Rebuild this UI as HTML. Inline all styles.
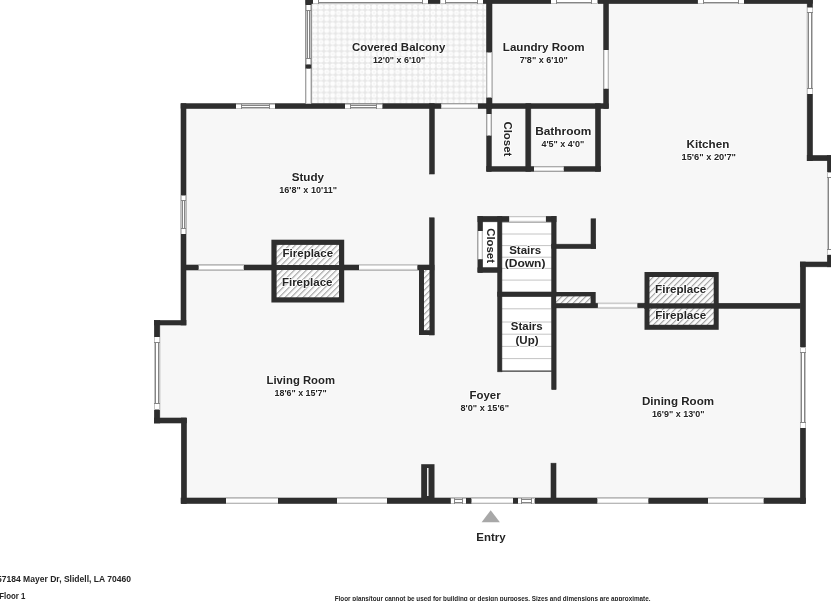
<!DOCTYPE html>
<html><head><meta charset="utf-8"><style>
html,body{margin:0;padding:0;background:#ffffff;width:831px;height:601px;overflow:hidden;}
svg{display:block;will-change:transform;}
text{font-family:"Liberation Sans",sans-serif;fill:#242424;stroke:#ffffff;stroke-width:1.6px;paint-order:stroke;stroke-linejoin:round;}
text.nh{stroke:none;}
</style></head><body>
<svg width="831" height="601" viewBox="0 0 831 601">
<defs>
<pattern id="hatch" patternUnits="userSpaceOnUse" width="4.24" height="4.24" patternTransform="rotate(45)">
<rect width="4.24" height="4.24" fill="#fcfcfc"/>
<line x1="0.6" y1="0" x2="0.6" y2="4.24" stroke="#a2a2a2" stroke-width="1.1"/>
</pattern>
<pattern id="tiles" patternUnits="userSpaceOnUse" width="11.8" height="11.8" x="312" y="4">
<rect width="11.8" height="11.8" fill="#e7e7e7"/>
<rect x="0.55" y="0.55" width="4.8" height="4.8" rx="1.7" fill="#fdfdfd"/>
<rect x="6.45" y="0.55" width="4.8" height="4.8" rx="1.7" fill="#fdfdfd"/>
<rect x="0.55" y="6.45" width="4.8" height="4.8" rx="1.7" fill="#fdfdfd"/>
<rect x="6.45" y="6.45" width="4.8" height="4.8" rx="1.7" fill="#fdfdfd"/>
<rect x="8.3" y="2.4" width="1.2" height="1.2" fill="#ececec"/>
<rect x="2.4" y="8.3" width="1.2" height="1.2" fill="#ececec"/>
</pattern>
</defs>
<polygon points="306,-3 812.5,-3 812.5,155.5 833,155.5 833,266.8 805.5,266.8 805.5,503.5 181,503.5 181,423 154.3,423 154.3,320.5 181,320.5 181,103.7 306,103.7" fill="#f7f7f7"/>
<rect x="311" y="3.6" width="175.5" height="100.1" fill="url(#tiles)" />
<rect x="482.6" y="221.8" width="15.1" height="45.9" fill="#ffffff" />
<rect x="501.7" y="221.6" width="50.2" height="70.4" fill="#ffffff" />
<rect x="501.7" y="296.6" width="50.2" height="74.9" fill="#ffffff" />
<line x1="501.7" y1="222.5" x2="551.9" y2="222.5" stroke="#c4c4c4" stroke-width="1"/>
<line x1="501.7" y1="234" x2="551.9" y2="234" stroke="#c4c4c4" stroke-width="1"/>
<line x1="501.7" y1="245.6" x2="551.9" y2="245.6" stroke="#c4c4c4" stroke-width="1"/>
<line x1="501.7" y1="257.2" x2="551.9" y2="257.2" stroke="#c4c4c4" stroke-width="1"/>
<line x1="501.7" y1="268.4" x2="551.9" y2="268.4" stroke="#c4c4c4" stroke-width="1"/>
<line x1="501.7" y1="280.1" x2="551.9" y2="280.1" stroke="#c4c4c4" stroke-width="1"/>
<line x1="501.7" y1="308.8" x2="551.9" y2="308.8" stroke="#c4c4c4" stroke-width="1"/>
<line x1="501.7" y1="322" x2="551.9" y2="322" stroke="#c4c4c4" stroke-width="1"/>
<line x1="501.7" y1="334.2" x2="551.9" y2="334.2" stroke="#c4c4c4" stroke-width="1"/>
<line x1="501.7" y1="346.4" x2="551.9" y2="346.4" stroke="#c4c4c4" stroke-width="1"/>
<line x1="501.7" y1="358.6" x2="551.9" y2="358.6" stroke="#c4c4c4" stroke-width="1"/>
<line x1="501.7" y1="371.1" x2="551.9" y2="371.1" stroke="#3a3a3a" stroke-width="1.3"/>
<rect x="306" y="-3" width="506.5" height="6.6" fill="#2e2e2e" stroke="#2e2e2e" stroke-width="0.6"/>
<rect x="305.7" y="-3" width="5.5" height="106.7" fill="#2e2e2e" stroke="#2e2e2e" stroke-width="0.6"/>
<rect x="181" y="103.7" width="427.3" height="4.8" fill="#2e2e2e" stroke="#2e2e2e" stroke-width="0.6"/>
<rect x="181" y="103.7" width="5" height="221.3" fill="#2e2e2e" stroke="#2e2e2e" stroke-width="0.6"/>
<rect x="154.3" y="320.5" width="31.7" height="4.5" fill="#2e2e2e" stroke="#2e2e2e" stroke-width="0.6"/>
<rect x="154.3" y="320.5" width="5.5" height="102.5" fill="#2e2e2e" stroke="#2e2e2e" stroke-width="0.6"/>
<rect x="154.3" y="418" width="32.2" height="5" fill="#2e2e2e" stroke="#2e2e2e" stroke-width="0.6"/>
<rect x="181.3" y="418" width="5.2" height="85.5" fill="#2e2e2e" stroke="#2e2e2e" stroke-width="0.6"/>
<rect x="181" y="498" width="624.5" height="5.5" fill="#2e2e2e" stroke="#2e2e2e" stroke-width="0.6"/>
<rect x="486.5" y="-3" width="5.5" height="111.5" fill="#2e2e2e" stroke="#2e2e2e" stroke-width="0.6"/>
<rect x="603.7" y="-3" width="4.8" height="111.5" fill="#2e2e2e" stroke="#2e2e2e" stroke-width="0.6"/>
<rect x="807.2" y="-3" width="5.3" height="163.7" fill="#2e2e2e" stroke="#2e2e2e" stroke-width="0.6"/>
<rect x="807.2" y="155.5" width="25.8" height="5.2" fill="#2e2e2e" stroke="#2e2e2e" stroke-width="0.6"/>
<rect x="827.3" y="155.5" width="5.7" height="111.3" fill="#2e2e2e" stroke="#2e2e2e" stroke-width="0.6"/>
<rect x="800.3" y="262" width="32.7" height="4.8" fill="#2e2e2e" stroke="#2e2e2e" stroke-width="0.6"/>
<rect x="800.3" y="262" width="5.2" height="241.5" fill="#2e2e2e" stroke="#2e2e2e" stroke-width="0.6"/>
<rect x="429.6" y="103.7" width="4.7" height="70.3" fill="#2e2e2e" stroke="#2e2e2e" stroke-width="0.6"/>
<rect x="429.5" y="217.8" width="4.7" height="117.2" fill="#2e2e2e" stroke="#2e2e2e" stroke-width="0.6"/>
<rect x="486.7" y="103.7" width="4.6" height="67.6" fill="#2e2e2e" stroke="#2e2e2e" stroke-width="0.6"/>
<rect x="486.7" y="166.6" width="113.8" height="4.7" fill="#2e2e2e" stroke="#2e2e2e" stroke-width="0.6"/>
<rect x="525.8" y="103.7" width="5.0" height="67.6" fill="#2e2e2e" stroke="#2e2e2e" stroke-width="0.6"/>
<rect x="595.5" y="103.7" width="5.0" height="67.6" fill="#2e2e2e" stroke="#2e2e2e" stroke-width="0.6"/>
<rect x="185.7" y="265" width="248.3" height="5" fill="#2e2e2e" stroke="#2e2e2e" stroke-width="0.6"/>
<rect x="477.9" y="216.3" width="78.2" height="5.5" fill="#2e2e2e" stroke="#2e2e2e" stroke-width="0.6"/>
<rect x="477.9" y="216.3" width="4.7" height="56.1" fill="#2e2e2e" stroke="#2e2e2e" stroke-width="0.6"/>
<rect x="477.9" y="267.7" width="23.8" height="4.7" fill="#2e2e2e" stroke="#2e2e2e" stroke-width="0.6"/>
<rect x="497.7" y="216.3" width="4.2" height="155.5" fill="#2e2e2e" stroke="#2e2e2e" stroke-width="0.6"/>
<rect x="551.7" y="216.3" width="4.4" height="173.3" fill="#2e2e2e" stroke="#2e2e2e" stroke-width="0.6"/>
<rect x="497.7" y="292" width="58.4" height="4.6" fill="#2e2e2e" stroke="#2e2e2e" stroke-width="0.6"/>
<rect x="551.7" y="244.2" width="44.0" height="4.3" fill="#2e2e2e" stroke="#2e2e2e" stroke-width="0.6"/>
<rect x="591" y="218.8" width="4.7" height="29.7" fill="#2e2e2e" stroke="#2e2e2e" stroke-width="0.6"/>
<rect x="556" y="303.2" width="88.5" height="4.7" fill="#2e2e2e" stroke="#2e2e2e" stroke-width="0.6"/>
<rect x="644.5" y="303.3" width="155.8" height="5.0" fill="#2e2e2e" stroke="#2e2e2e" stroke-width="0.6"/>
<rect x="551" y="463.2" width="5" height="34.8" fill="#2e2e2e" stroke="#2e2e2e" stroke-width="0.6"/>
<rect x="271.4" y="239.7" width="72.8" height="62.8" fill="#2e2e2e" />
<rect x="276.59999999999997" y="244.89999999999998" width="62.4" height="20.1" fill="url(#hatch)" />
<rect x="276.59999999999997" y="270" width="62.4" height="27.3" fill="url(#hatch)" />
<rect x="644.5" y="272" width="74.2" height="57.8" fill="#2e2e2e" />
<rect x="649.5" y="277" width="64.2" height="26.3" fill="url(#hatch)" />
<rect x="649.5" y="308.6" width="64.2" height="16.2" fill="url(#hatch)" />
<rect x="419" y="265" width="15.2" height="70" fill="#2e2e2e" />
<rect x="424" y="270" width="5.5" height="60.2" fill="url(#hatch)" />
<rect x="551.7" y="292" width="44.0" height="15.8" fill="#2e2e2e" />
<rect x="556.1" y="296.4" width="34.5" height="6.8" fill="url(#hatch)" />
<rect x="421.2" y="464.2" width="13.3" height="33.8" fill="#2e2e2e" />
<line x1="427.8" y1="468" x2="427.8" y2="496" stroke="#ffffff" stroke-width="1.4"/>
<rect x="313" y="-3" width="115" height="6.6" fill="#ffffff" />
<rect x="313" y="-3" width="115" height="1" fill="#c4c4c4" shape-rendering="crispEdges"/>
<rect x="313" y="3" width="115" height="1" fill="#c4c4c4" shape-rendering="crispEdges"/>
<rect x="318" y="-3" width="1" height="7" fill="#858585" shape-rendering="crispEdges"/>
<rect x="422" y="-3" width="1" height="7" fill="#858585" shape-rendering="crispEdges"/>
<rect x="318" y="-2" width="105" height="1" fill="#858585" shape-rendering="crispEdges"/>
<rect x="318" y="2" width="105" height="1" fill="#858585" shape-rendering="crispEdges"/>
<rect x="440.3" y="-3" width="42.7" height="6.6" fill="#ffffff" />
<rect x="440.3" y="-3" width="42.7" height="1" fill="#c4c4c4" shape-rendering="crispEdges"/>
<rect x="440.3" y="3" width="42.7" height="1" fill="#c4c4c4" shape-rendering="crispEdges"/>
<rect x="445" y="-3" width="1" height="7" fill="#858585" shape-rendering="crispEdges"/>
<rect x="477" y="-3" width="1" height="7" fill="#858585" shape-rendering="crispEdges"/>
<rect x="445" y="-2" width="33" height="1" fill="#858585" shape-rendering="crispEdges"/>
<rect x="445" y="2" width="33" height="1" fill="#858585" shape-rendering="crispEdges"/>
<rect x="551" y="-3" width="46.5" height="6.6" fill="#ffffff" />
<rect x="551" y="-3" width="46.5" height="1" fill="#c4c4c4" shape-rendering="crispEdges"/>
<rect x="551" y="3" width="46.5" height="1" fill="#c4c4c4" shape-rendering="crispEdges"/>
<rect x="556" y="-3" width="1" height="7" fill="#858585" shape-rendering="crispEdges"/>
<rect x="591" y="-3" width="1" height="7" fill="#858585" shape-rendering="crispEdges"/>
<rect x="556" y="-2" width="36" height="1" fill="#858585" shape-rendering="crispEdges"/>
<rect x="556" y="2" width="36" height="1" fill="#858585" shape-rendering="crispEdges"/>
<rect x="697.9" y="-3" width="46.1" height="6.6" fill="#ffffff" />
<rect x="697.9" y="-3" width="46.1" height="1" fill="#c4c4c4" shape-rendering="crispEdges"/>
<rect x="697.9" y="3" width="46.1" height="1" fill="#c4c4c4" shape-rendering="crispEdges"/>
<rect x="703" y="-3" width="1" height="7" fill="#858585" shape-rendering="crispEdges"/>
<rect x="738" y="-3" width="1" height="7" fill="#858585" shape-rendering="crispEdges"/>
<rect x="703" y="-2" width="36" height="1" fill="#858585" shape-rendering="crispEdges"/>
<rect x="703" y="2" width="36" height="1" fill="#858585" shape-rendering="crispEdges"/>
<rect x="305.7" y="5" width="5.5" height="59.4" fill="#ffffff" />
<rect x="306" y="5" width="1" height="59.4" fill="#c4c4c4" shape-rendering="crispEdges"/>
<rect x="310" y="5" width="1" height="59.4" fill="#c4c4c4" shape-rendering="crispEdges"/>
<rect x="306" y="10" width="5" height="1" fill="#858585" shape-rendering="crispEdges"/>
<rect x="306" y="58" width="5" height="1" fill="#858585" shape-rendering="crispEdges"/>
<rect x="307" y="10" width="1" height="49" fill="#858585" shape-rendering="crispEdges"/>
<rect x="309" y="10" width="1" height="49" fill="#858585" shape-rendering="crispEdges"/>
<rect x="305.7" y="68.7" width="5.5" height="35.0" fill="#ffffff" />
<line x1="306.2" y1="68.7" x2="306.2" y2="103.7" stroke="#c8c8c8" stroke-width="0.9"/>
<line x1="310.7" y1="68.7" x2="310.7" y2="103.7" stroke="#c8c8c8" stroke-width="0.9"/>
<rect x="486.5" y="52.5" width="5.5" height="45.0" fill="#ffffff" />
<line x1="487.0" y1="52.5" x2="487.0" y2="97.5" stroke="#c8c8c8" stroke-width="0.9"/>
<line x1="491.5" y1="52.5" x2="491.5" y2="97.5" stroke="#c8c8c8" stroke-width="0.9"/>
<rect x="603.7" y="50" width="4.8" height="38.7" fill="#ffffff" />
<line x1="604.2" y1="50" x2="604.2" y2="88.7" stroke="#c8c8c8" stroke-width="0.9"/>
<line x1="608.0" y1="50" x2="608.0" y2="88.7" stroke="#c8c8c8" stroke-width="0.9"/>
<rect x="807.2" y="7.5" width="5.3" height="86.5" fill="#ffffff" />
<rect x="807" y="7.5" width="1" height="86.5" fill="#c4c4c4" shape-rendering="crispEdges"/>
<rect x="812" y="7.5" width="1" height="86.5" fill="#c4c4c4" shape-rendering="crispEdges"/>
<rect x="807" y="12" width="6" height="1" fill="#858585" shape-rendering="crispEdges"/>
<rect x="807" y="88" width="6" height="1" fill="#858585" shape-rendering="crispEdges"/>
<rect x="808" y="12" width="1" height="77" fill="#858585" shape-rendering="crispEdges"/>
<rect x="811" y="12" width="1" height="77" fill="#858585" shape-rendering="crispEdges"/>
<rect x="827.3" y="172.4" width="5.7" height="82.4" fill="#ffffff" />
<rect x="827" y="172.4" width="1" height="82.4" fill="#c4c4c4" shape-rendering="crispEdges"/>
<rect x="832" y="172.4" width="1" height="82.4" fill="#c4c4c4" shape-rendering="crispEdges"/>
<rect x="827" y="177" width="6" height="1" fill="#858585" shape-rendering="crispEdges"/>
<rect x="827" y="249" width="6" height="1" fill="#858585" shape-rendering="crispEdges"/>
<rect x="828" y="177" width="1" height="73" fill="#858585" shape-rendering="crispEdges"/>
<rect x="831" y="177" width="1" height="73" fill="#858585" shape-rendering="crispEdges"/>
<rect x="236" y="103.7" width="39" height="4.8" fill="#ffffff" />
<rect x="236" y="104" width="39" height="1" fill="#c4c4c4" shape-rendering="crispEdges"/>
<rect x="236" y="108" width="39" height="1" fill="#c4c4c4" shape-rendering="crispEdges"/>
<rect x="241" y="104" width="1" height="5" fill="#858585" shape-rendering="crispEdges"/>
<rect x="269" y="104" width="1" height="5" fill="#858585" shape-rendering="crispEdges"/>
<rect x="241" y="105" width="29" height="1" fill="#858585" shape-rendering="crispEdges"/>
<rect x="241" y="107" width="29" height="1" fill="#858585" shape-rendering="crispEdges"/>
<rect x="345" y="103.7" width="37.4" height="4.8" fill="#ffffff" />
<rect x="345" y="104" width="37.4" height="1" fill="#c4c4c4" shape-rendering="crispEdges"/>
<rect x="345" y="108" width="37.4" height="1" fill="#c4c4c4" shape-rendering="crispEdges"/>
<rect x="350" y="104" width="1" height="5" fill="#858585" shape-rendering="crispEdges"/>
<rect x="376" y="104" width="1" height="5" fill="#858585" shape-rendering="crispEdges"/>
<rect x="350" y="105" width="27" height="1" fill="#858585" shape-rendering="crispEdges"/>
<rect x="350" y="107" width="27" height="1" fill="#858585" shape-rendering="crispEdges"/>
<rect x="441.3" y="103.7" width="36.6" height="4.8" fill="#ffffff" />
<line x1="441.3" y1="104.2" x2="477.9" y2="104.2" stroke="#c8c8c8" stroke-width="0.9"/>
<line x1="441.3" y1="108.0" x2="477.9" y2="108.0" stroke="#c8c8c8" stroke-width="0.9"/>
<rect x="181" y="195.5" width="5" height="38.5" fill="#ffffff" />
<rect x="181" y="195.5" width="1" height="38.5" fill="#c4c4c4" shape-rendering="crispEdges"/>
<rect x="185" y="195.5" width="1" height="38.5" fill="#c4c4c4" shape-rendering="crispEdges"/>
<rect x="181" y="200" width="5" height="1" fill="#858585" shape-rendering="crispEdges"/>
<rect x="181" y="228" width="5" height="1" fill="#858585" shape-rendering="crispEdges"/>
<rect x="182" y="200" width="1" height="29" fill="#858585" shape-rendering="crispEdges"/>
<rect x="184" y="200" width="1" height="29" fill="#858585" shape-rendering="crispEdges"/>
<rect x="154.3" y="337" width="5.5" height="72.5" fill="#ffffff" />
<rect x="154" y="337" width="1" height="72.5" fill="#c4c4c4" shape-rendering="crispEdges"/>
<rect x="159" y="337" width="1" height="72.5" fill="#c4c4c4" shape-rendering="crispEdges"/>
<rect x="154" y="342" width="6" height="1" fill="#858585" shape-rendering="crispEdges"/>
<rect x="154" y="403" width="6" height="1" fill="#858585" shape-rendering="crispEdges"/>
<rect x="155" y="342" width="1" height="62" fill="#858585" shape-rendering="crispEdges"/>
<rect x="158" y="342" width="1" height="62" fill="#858585" shape-rendering="crispEdges"/>
<rect x="486.7" y="114" width="4.6" height="21.5" fill="#ffffff" />
<line x1="487.2" y1="114" x2="487.2" y2="135.5" stroke="#c8c8c8" stroke-width="0.9"/>
<line x1="490.8" y1="114" x2="490.8" y2="135.5" stroke="#c8c8c8" stroke-width="0.9"/>
<rect x="534" y="166.6" width="29.7" height="4.7" fill="#ffffff" />
<line x1="534" y1="167.1" x2="563.7" y2="167.1" stroke="#c8c8c8" stroke-width="0.9"/>
<line x1="534" y1="170.8" x2="563.7" y2="170.8" stroke="#c8c8c8" stroke-width="0.9"/>
<rect x="198.7" y="265" width="45.0" height="5" fill="#ffffff" />
<line x1="198.7" y1="265.5" x2="243.7" y2="265.5" stroke="#c8c8c8" stroke-width="0.9"/>
<line x1="198.7" y1="269.5" x2="243.7" y2="269.5" stroke="#c8c8c8" stroke-width="0.9"/>
<rect x="359" y="264.8" width="58.3" height="5.1" fill="#ffffff" />
<line x1="359" y1="265.3" x2="417.3" y2="265.3" stroke="#c8c8c8" stroke-width="0.9"/>
<line x1="359" y1="269.4" x2="417.3" y2="269.4" stroke="#c8c8c8" stroke-width="0.9"/>
<rect x="477.9" y="231" width="4.7" height="28.2" fill="#ffffff" />
<line x1="478.4" y1="231" x2="478.4" y2="259.2" stroke="#c8c8c8" stroke-width="0.9"/>
<line x1="482.1" y1="231" x2="482.1" y2="259.2" stroke="#c8c8c8" stroke-width="0.9"/>
<rect x="509.2" y="216.3" width="36.7" height="5.5" fill="#ffffff" />
<line x1="509.2" y1="216.8" x2="545.9" y2="216.8" stroke="#c8c8c8" stroke-width="0.9"/>
<line x1="509.2" y1="221.3" x2="545.9" y2="221.3" stroke="#c8c8c8" stroke-width="0.9"/>
<rect x="597.9" y="303.2" width="39.4" height="4.7" fill="#ffffff" />
<line x1="597.9" y1="303.7" x2="637.3" y2="303.7" stroke="#c8c8c8" stroke-width="0.9"/>
<line x1="597.9" y1="307.4" x2="637.3" y2="307.4" stroke="#c8c8c8" stroke-width="0.9"/>
<rect x="226" y="498" width="52" height="5.5" fill="#ffffff" />
<line x1="226" y1="498.5" x2="278" y2="498.5" stroke="#c8c8c8" stroke-width="0.9"/>
<line x1="226" y1="503.0" x2="278" y2="503.0" stroke="#c8c8c8" stroke-width="0.9"/>
<rect x="337" y="498" width="50" height="5.5" fill="#ffffff" />
<line x1="337" y1="498.5" x2="387" y2="498.5" stroke="#c8c8c8" stroke-width="0.9"/>
<line x1="337" y1="503.0" x2="387" y2="503.0" stroke="#c8c8c8" stroke-width="0.9"/>
<rect x="450.8" y="498" width="15.2" height="5.5" fill="#ffffff" />
<rect x="450.8" y="498" width="15.2" height="1" fill="#c4c4c4" shape-rendering="crispEdges"/>
<rect x="450.8" y="503" width="15.2" height="1" fill="#c4c4c4" shape-rendering="crispEdges"/>
<rect x="454" y="498" width="1" height="6" fill="#858585" shape-rendering="crispEdges"/>
<rect x="462" y="498" width="1" height="6" fill="#858585" shape-rendering="crispEdges"/>
<rect x="454" y="499" width="9" height="1" fill="#858585" shape-rendering="crispEdges"/>
<rect x="454" y="502" width="9" height="1" fill="#858585" shape-rendering="crispEdges"/>
<rect x="471.5" y="498" width="41.5" height="5.5" fill="#ffffff" />
<line x1="471.5" y1="498.5" x2="513" y2="498.5" stroke="#c8c8c8" stroke-width="0.9"/>
<line x1="471.5" y1="503.0" x2="513" y2="503.0" stroke="#c8c8c8" stroke-width="0.9"/>
<rect x="518" y="498" width="16.6" height="5.5" fill="#ffffff" />
<rect x="518" y="498" width="16.6" height="1" fill="#c4c4c4" shape-rendering="crispEdges"/>
<rect x="518" y="503" width="16.6" height="1" fill="#c4c4c4" shape-rendering="crispEdges"/>
<rect x="521" y="498" width="1" height="6" fill="#858585" shape-rendering="crispEdges"/>
<rect x="531" y="498" width="1" height="6" fill="#858585" shape-rendering="crispEdges"/>
<rect x="521" y="499" width="11" height="1" fill="#858585" shape-rendering="crispEdges"/>
<rect x="521" y="502" width="11" height="1" fill="#858585" shape-rendering="crispEdges"/>
<rect x="597.4" y="498" width="50.9" height="5.5" fill="#ffffff" />
<line x1="597.4" y1="498.5" x2="648.3" y2="498.5" stroke="#c8c8c8" stroke-width="0.9"/>
<line x1="597.4" y1="503.0" x2="648.3" y2="503.0" stroke="#c8c8c8" stroke-width="0.9"/>
<rect x="708" y="498" width="55.6" height="5.5" fill="#ffffff" />
<line x1="708" y1="498.5" x2="763.6" y2="498.5" stroke="#c8c8c8" stroke-width="0.9"/>
<line x1="708" y1="503.0" x2="763.6" y2="503.0" stroke="#c8c8c8" stroke-width="0.9"/>
<rect x="800.3" y="347.4" width="5.2" height="80.6" fill="#ffffff" />
<rect x="800" y="347.4" width="1" height="80.6" fill="#c4c4c4" shape-rendering="crispEdges"/>
<rect x="805" y="347.4" width="1" height="80.6" fill="#c4c4c4" shape-rendering="crispEdges"/>
<rect x="800" y="352" width="6" height="1" fill="#858585" shape-rendering="crispEdges"/>
<rect x="800" y="422" width="6" height="1" fill="#858585" shape-rendering="crispEdges"/>
<rect x="801" y="352" width="1" height="71" fill="#858585" shape-rendering="crispEdges"/>
<rect x="804" y="352" width="1" height="71" fill="#858585" shape-rendering="crispEdges"/>
<polygon points="490.7,510.2 481.6,522.2 499.9,522.2" fill="#a8a8a8"/>
<text  x="351.9" y="50.5" font-size="11" font-weight="bold" textLength="93.5" lengthAdjust="spacingAndGlyphs">Covered Balcony</text>
<text  x="372.9" y="63.2" font-size="8.8" font-weight="bold" textLength="52.3" lengthAdjust="spacingAndGlyphs">12'0&quot; x 6'10&quot;</text>
<text  x="502.8" y="50.6" font-size="11" font-weight="bold" textLength="81.8" lengthAdjust="spacingAndGlyphs">Laundry Room</text>
<text  x="519.7" y="62.9" font-size="8.8" font-weight="bold" textLength="48.1" lengthAdjust="spacingAndGlyphs">7'8&quot; x 6'10&quot;</text>
<text  x="535.2" y="134.6" font-size="11" font-weight="bold" textLength="56.1" lengthAdjust="spacingAndGlyphs">Bathroom</text>
<text  x="541.4" y="147.3" font-size="8.8" font-weight="bold" textLength="42.8" lengthAdjust="spacingAndGlyphs">4'5&quot; x 4'0&quot;</text>
<text  x="686.6" y="148" font-size="11" font-weight="bold" textLength="42.7" lengthAdjust="spacingAndGlyphs">Kitchen</text>
<text  x="681.5" y="160" font-size="8.8" font-weight="bold" textLength="54.5" lengthAdjust="spacingAndGlyphs">15'6&quot; x 20'7&quot;</text>
<text  x="291.7" y="181" font-size="11" font-weight="bold" textLength="32.3" lengthAdjust="spacingAndGlyphs">Study</text>
<text  x="279.3" y="193.2" font-size="8.8" font-weight="bold" textLength="57.7" lengthAdjust="spacingAndGlyphs">16'8&quot; x 10'11&quot;</text>
<text  x="282.5" y="257.4" font-size="11" font-weight="bold" textLength="50.6" lengthAdjust="spacingAndGlyphs">Fireplace</text>
<text  x="281.9" y="285.9" font-size="11" font-weight="bold" textLength="50.6" lengthAdjust="spacingAndGlyphs">Fireplace</text>
<text  x="655" y="293" font-size="11" font-weight="bold" textLength="51.3" lengthAdjust="spacingAndGlyphs">Fireplace</text>
<text  x="655.2" y="319.3" font-size="11" font-weight="bold" textLength="51.1" lengthAdjust="spacingAndGlyphs">Fireplace</text>
<text  x="509.2" y="253.6" font-size="11" font-weight="bold" textLength="32.0" lengthAdjust="spacingAndGlyphs">Stairs</text>
<text  x="504.7" y="267.3" font-size="11" font-weight="bold" textLength="40.8" lengthAdjust="spacingAndGlyphs">(Down)</text>
<text  x="510.8" y="330" font-size="11" font-weight="bold" textLength="31.9" lengthAdjust="spacingAndGlyphs">Stairs</text>
<text  x="515.5" y="344.2" font-size="11" font-weight="bold" textLength="23.1" lengthAdjust="spacingAndGlyphs">(Up)</text>
<text  x="266.5" y="383.8" font-size="11" font-weight="bold" textLength="68.5" lengthAdjust="spacingAndGlyphs">Living Room</text>
<text  x="274.5" y="396.4" font-size="8.8" font-weight="bold" textLength="52.3" lengthAdjust="spacingAndGlyphs">18'6&quot; x 15'7&quot;</text>
<text  x="469.5" y="398.8" font-size="11" font-weight="bold" textLength="31.1" lengthAdjust="spacingAndGlyphs">Foyer</text>
<text  x="460.5" y="411" font-size="8.8" font-weight="bold" textLength="48.5" lengthAdjust="spacingAndGlyphs">8'0&quot; x 15'6&quot;</text>
<text  x="642" y="404.7" font-size="11" font-weight="bold" textLength="72" lengthAdjust="spacingAndGlyphs">Dining Room</text>
<text  x="651.9" y="417" font-size="8.8" font-weight="bold" textLength="52.6" lengthAdjust="spacingAndGlyphs">16'9&quot; x 13'0&quot;</text>
<text  x="476.3" y="541" font-size="11" font-weight="bold" textLength="29.3" lengthAdjust="spacingAndGlyphs">Entry</text>
<text class="nh" x="-3" y="581.7" font-size="9" font-weight="bold" textLength="134" lengthAdjust="spacingAndGlyphs">57184 Mayer Dr, Slidell, LA 70460</text>
<text class="nh" x="-0.8" y="598.6" font-size="9" font-weight="bold" textLength="26.2" lengthAdjust="spacingAndGlyphs">Floor 1</text>
<text class="nh" x="334.7" y="600.8" font-size="7.5" font-weight="bold" textLength="315.8" lengthAdjust="spacingAndGlyphs">Floor plans/tour cannot be used for building or design purposes. Sizes and dimensions are approximate.</text>
<text transform="translate(504,121.4) rotate(90)" x="0" y="0" font-size="11" font-weight="bold" textLength="35.0" lengthAdjust="spacingAndGlyphs">Closet</text>
<text transform="translate(487,228.2) rotate(90)" x="0" y="0" font-size="11" font-weight="bold" textLength="34.8" lengthAdjust="spacingAndGlyphs">Closet</text>
</svg>
</body></html>
